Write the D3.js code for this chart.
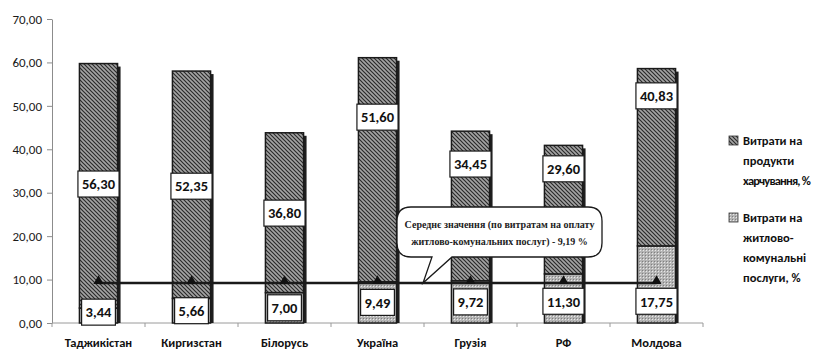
<!DOCTYPE html>
<html>
<head>
<meta charset="utf-8">
<script src="https://cdn.jsdelivr.net/npm/d3@7/dist/d3.min.js"></script>
<style>
  html, body { margin: 0; padding: 0; background: #fff; }
  svg { display: block; }
</style>
</head>
<body>
<svg id="chart" width="814" height="349"></svg>
<script>
// Countries along the x axis
const countries = ["Таджикістан", "Киргизстан", "Білорусь", "Україна", "Грузія", "РФ", "Молдова"];
// Share of spending on food, %
const foodShare = [56.30, 52.35, 36.80, 51.60, 34.45, 29.60, 40.83];
// Share of spending on housing and utilities, %
const housingShare = [3.44, 5.66, 7.00, 9.49, 9.72, 11.30, 17.75];
// Average housing/utilities share across the countries
const housingAverage = 9.19;
// Y axis ticks
const yTicks = [0, 10, 20, 30, 40, 50, 60, 70];
// Legend entries
const legendFood = ["Витрати на", "продукти", "харчування, %"];
const legendHousing = ["Витрати на", "житлово-", "комунальні", "послуги, %"];
const calloutLines = ["Середнє значення (по витратам на оплату", "житлово-комунальних послуг) - 9,19 %"];

// Where the food value labels sit, in chart units (some are lifted to stay clear of the callout)
const foodLabelAt = [32.0, 31.5, 25.3, 47.4, 36.6, 35.5, 52.3];

const svg = d3.select("#chart");
const fontSans = "Carlito, Lato, 'Open Sans', sans-serif";
const fmt = v => d3.format(".2f")(v).replace(".", ",");

const plotLeft = 52, plotRight = 703, plotTop = 19, plotBottom = 323;
const y = d3.scaleLinear().domain([0, 70]).range([plotBottom, plotTop]);
const x = d3.scaleBand().domain(countries).range([plotLeft, plotRight])
  .paddingInner(0.59).paddingOuter(0.295);

// Fill patterns
const defs = svg.append("defs");
const pFood = defs.append("pattern").attr("id", "food")
  .attr("patternUnits", "userSpaceOnUse").attr("width", 4).attr("height", 4);
pFood.append("rect").attr("width", 4).attr("height", 4).attr("fill", "#a4a4a4");
pFood.append("path").attr("d", "M0,0 L4,4 M-1,3 L1,5 M3,-1 L5,1")
  .attr("stroke", "#2a2a2a").attr("stroke-width", 1.2);

const pHouse = defs.append("pattern").attr("id", "housing")
  .attr("patternUnits", "userSpaceOnUse").attr("width", 3).attr("height", 3);
pHouse.append("rect").attr("width", 3).attr("height", 3).attr("fill", "#b4b4b4");
pHouse.append("rect").attr("x", 1).attr("y", 1).attr("width", 1).attr("height", 1).attr("fill", "#e8e8e8");
pHouse.append("rect").attr("x", 0).attr("y", 0).attr("width", 1).attr("height", 1).attr("fill", "#808080");

// Y axis
const yAxis = d3.axisLeft(y).tickValues(yTicks).tickFormat(fmt).tickSize(5).tickSizeOuter(0);
const gy = svg.append("g").attr("transform", `translate(${plotLeft},0)`).call(yAxis);
gy.select(".domain").attr("stroke", "#8c8c8c");
gy.selectAll(".tick line").attr("stroke", "#8c8c8c");
gy.selectAll(".tick text").attr("x", -10).attr("font-family", fontSans)
  .attr("font-size", 13).attr("fill", "#1a1a1a");

// X axis: line with ticks between categories
const gx = svg.append("g");
gx.append("line").attr("x1", plotLeft).attr("x2", plotRight).attr("y1", plotBottom).attr("y2", plotBottom)
  .attr("stroke", "#9a9a9a");
const step = x.step();
d3.range(countries.length + 1).forEach(i => {
  const xt = plotLeft + i * step;
  gx.append("line").attr("x1", xt).attr("x2", xt).attr("y1", plotBottom).attr("y2", plotBottom + 4)
    .attr("stroke", "#9a9a9a");
});
gx.selectAll("text.cat").data(countries).join("text").attr("class", "cat")
  .attr("x", d => x(d) + x.bandwidth() / 2).attr("y", 347)
  .attr("text-anchor", "middle").attr("font-family", fontSans).attr("font-weight", "bold")
  .attr("font-size", 12.5).attr("fill", "#111").text(d => d);

// Bars
const rows = countries.map((c, i) => ({ c, food: foodShare[i], house: housingShare[i], i }));
const bw = x.bandwidth();
const bars = svg.append("g");
rows.forEach(d => {
  const x0 = x(d.c);
  const total = d.house + d.food;
  // shadow
  bars.append("rect").attr("x", x0 + 3).attr("y", y(total) + 3)
    .attr("width", bw).attr("height", plotBottom - y(total) - 3).attr("fill", "#1e1e1e");
  bars.append("rect").attr("x", x0).attr("y", y(d.house)).attr("width", bw)
    .attr("height", plotBottom - y(d.house)).attr("fill", "url(#housing)")
    .attr("stroke", "#1a1a1a").attr("stroke-width", 1.5);
  bars.append("rect").attr("x", x0).attr("y", y(total)).attr("width", bw)
    .attr("height", y(d.house) - y(total)).attr("fill", "url(#food)")
    .attr("stroke", "#1a1a1a").attr("stroke-width", 1.5);
});

// Average line with triangle markers
const cx = c => x(c) + bw / 2;
svg.append("line").attr("x1", cx(countries[0])).attr("x2", cx(countries[countries.length - 1]))
  .attr("y1", y(housingAverage)).attr("y2", y(housingAverage))
  .attr("stroke", "#1a1a1a").attr("stroke-width", 2.5);
svg.append("g").selectAll("path").data(countries).join("path")
  .attr("d", d3.symbol().type(d3.symbolTriangle).size(45))
  .attr("transform", d => `translate(${cx(d)},${y(housingAverage) - 2})`)
  .attr("fill", "#111");

// Value labels
function valueLabel(g, xc, yc, text) {
  const t = g.append("text").attr("x", xc).attr("y", yc).attr("dy", "0.36em")
    .attr("text-anchor", "middle").attr("font-family", fontSans).attr("font-weight", "bold")
    .attr("font-size", 14.5).attr("fill", "#111").text(text);
  const w = t.node().getComputedTextLength() + 8;
  g.insert("rect", "text").attr("x", xc - w / 2).attr("y", yc - 13).attr("width", w).attr("height", 26)
    .attr("fill", "#fff").attr("stroke", "#1a1a1a").attr("stroke-width", 1.2);
}
rows.forEach(d => {
  const g1 = svg.append("g");
  valueLabel(g1, cx(d.c), y(foodLabelAt[d.i]), fmt(d.food));
  const g2 = svg.append("g");
  const at = Math.min(5, Math.max(2.5, d.house / 2));
  valueLabel(g2, cx(d.c), y(at), fmt(d.house));
});

// Callout for the average
const bx0 = 397, bx1 = 602, by0 = 207, by1 = 257, r = 14;
const tipX = 423, tipY = y(housingAverage);
const callout = d3.path();
callout.moveTo(bx0 + r, by0);
callout.lineTo(bx1 - r, by0);
callout.quadraticCurveTo(bx1, by0, bx1, by0 + r);
callout.lineTo(bx1, by1 - r);
callout.quadraticCurveTo(bx1, by1, bx1 - r, by1);
callout.lineTo(452, by1);
callout.lineTo(tipX, tipY);
callout.lineTo(432, by1);
callout.lineTo(bx0 + r, by1);
callout.quadraticCurveTo(bx0, by1, bx0, by1 - r);
callout.lineTo(bx0, by0 + r);
callout.quadraticCurveTo(bx0, by0, bx0 + r, by0);
callout.closePath();
svg.append("path").attr("d", callout.toString()).attr("fill", "#fff")
  .attr("stroke", "#1a1a1a").attr("stroke-width", 1.3);
svg.append("g").selectAll("text").data(calloutLines).join("text")
  .attr("x", (bx0 + bx1) / 2).attr("y", (d, i) => 228 + i * 17)
  .attr("text-anchor", "middle").attr("font-family", "'Liberation Serif', 'DejaVu Serif', serif")
  .attr("font-weight", "bold").attr("font-size", 10).attr("fill", "#222").text(d => d);

// Legend (long lines are tightened to fit the space right of the plot)
const legend = svg.append("g");
const legendTextX = 743, legendMaxW = 67;
function legendItem(y0, fill, lines) {
  legend.append("rect").attr("x", 729).attr("y", y0 - 9).attr("width", 9).attr("height", 9)
    .attr("fill", fill).attr("stroke", "#333").attr("stroke-width", 0.8);
  legend.selectAll(null).data(lines).join("text")
    .attr("x", legendTextX).attr("y", (d, i) => y0 + i * 20)
    .attr("font-family", fontSans).attr("font-weight", "bold").attr("font-size", 12.5)
    .attr("fill", "#111").text(d => d)
    .each(function (d) {
      const len = this.getComputedTextLength();
      if (len > legendMaxW) {
        d3.select(this).attr("letter-spacing", (legendMaxW - len) / d.length);
      }
    });
}
legendItem(145, "url(#food)", legendFood);
legendItem(222, "url(#housing)", legendHousing);
</script>
</body>
</html>
